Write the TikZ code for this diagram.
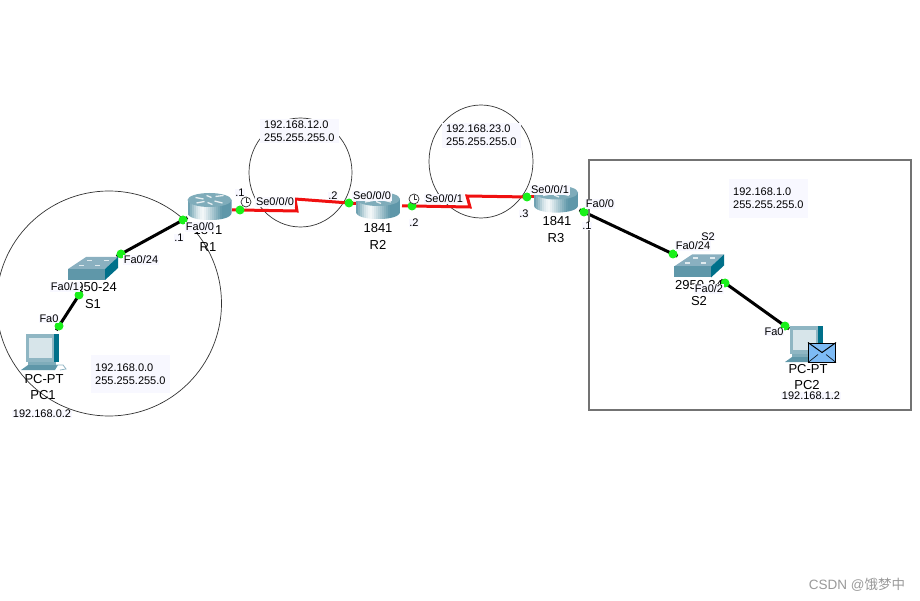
\documentclass[tikz,border=0pt]{standalone}
\usepackage{fontspec}
\setmainfont{Liberation Sans}
\newfontfamily\cjkfont{Noto Sans CJK SC}
\usetikzlibrary{positioning,backgrounds}

\definecolor{ghost}{HTML}{F8F8FF}
\definecolor{linkgreen}{HTML}{19F019}
\definecolor{seriallink}{HTML}{F01010}
\definecolor{teal}{HTML}{5F97A9}
\definecolor{tealdark}{HTML}{00708A}
\definecolor{teallight}{HTML}{8FB3C2}
\definecolor{mailblue}{HTML}{7DBBF5}

\tikzset{
    portdot/.style={circle, fill=linkgreen, inner sep=0pt, minimum size=9pt},
    fastlink/.style={line width=3pt, black, shorten <=-5pt, shorten >=-5pt},
    seriallinkline/.style={line width=3pt, seriallink},
    netring/.style={draw=black!80, line width=0.7pt},
    portlabel/.style={fill=ghost, font=\fontsize{11}{11}\selectfont, inner sep=0.6pt},
    devlabel/.style={font=\fontsize{13}{13}\selectfont, inner sep=0pt},
    netlabel/.style={fill=ghost, font=\fontsize{11}{13}\selectfont, align=left, anchor=north west,
        inner sep=0pt, inner xsep=4pt, inner ysep=1pt},
    pics/router/.style={code={
        \begin{scope}
        \clip (-22,-6.5) -- (-22,6.5) .. controls (-22,16) and (22,16) .. (22,6.5) -- (22,-6.5) -- cycle;
        % body gradient, light a third of the way along
        \foreach \m/\x in {10/-22,25/-20,40/-18,55/-16,70/-14,80/-12,88/-10,92/-8,85/-6,75/-4,65/-2,55/0,45/2,35/4,25/6,15/8,5/10,0/12,0/14,0/16,0/18,0/20} {
            \fill[white!\m!teal] (\x,-14) rectangle ++(2.3,28);
        }
        \end{scope}
        \fill[teal!80!white] (0,-6.5) ellipse[x radius=22, y radius=7];
        \foreach \xa/\ya/\xb/\yb in {-14/-9/-6/-7.5, 6/-10/14/-11, -13/-3.5/-5/-5, 5/-5.5/13/-3.5, -3/-11/2/-9, -2/-4/3/-2} {
            \draw[white!85!teal, line width=1.3pt] (\xa,\ya) -- (\xb,\yb);
        }
    }},
    pics/switchbox/.style={code={
        \fill[teallight!90!teal] (-25,1) -- (-7,-11) -- (25,-11) -- (12,1) -- cycle;
        \fill[teal] (-25,1) rectangle (12,12);
        \fill[tealdark] (12,1) -- (25,-11) -- (25,0) -- (12,12) -- cycle;
        \foreach \x/\y in {-14/-3,-6/-8,2/-3,11/-8} {
            \fill[white!80!teal] (\x,\y) rectangle ++(5,1.2);
        }
    }},
    pics/pcbox/.style={code={
        \fill[tealdark] (-17,-18) rectangle (16,10);
        \fill[teal!70!white] (-17,-18) rectangle (11,10);
        \fill[white!75!teal] (-14,-14) rectangle (9,6);
        \fill[teal!80!white] (-15,10) rectangle (13,14);
        \fill[teal] (-22,18) -- (-15,13) -- (15,13) -- (12,18) -- cycle;
        \draw[teallight, line width=0.8pt] (13,13) -- (20,13) -- (23,17) -- (17,18);
    }},
    pics/clockface/.style={code={
        \draw[black!80, fill=white, line width=0.7pt] (0,0) circle (5);
        \draw[black!80, line width=0.6pt] (0,-3.5) -- (0,0) -- (3,0);
    }},
}

\begin{document}
\begin{tikzpicture}[x=1pt, y=-1pt]
\useasboundingbox (0,0) rectangle (920,601);

% LAN 2 frame
\node[draw=black!55, line width=1.2pt, minimum width=322pt, minimum height=250pt, inner sep=0pt] (lanframe) at (750,285) {};

% Port dots
\foreach \n/\x/\y in {pcOneFa/59/326, sOneFaOne/79/295, sOneFaTwo/121/254, rOneFa/183/220,
        rOneSe/240/210, rTwoSeA/349/203, rTwoSeB/412/206, rThreeSe/527/197, rThreeFa/584/212,
        sTwoFaTwo/673/254, sTwoFaOne/725/283, pcTwoFa/785/326} {
    \node[portdot] (\n) at (\x,\y) {};
}

% Bends of the serial lines
\coordinate (bendA) at (297,211);
\coordinate (bendB) at (295,199);
\coordinate (bendC) at (470,207);
\coordinate (bendD) at (467,196);

% Network rings and links, under everything else
\begin{scope}[on background layer]
\node[netring, circle, minimum size=225pt, inner sep=0pt] (ringA) at (109,303.5) {};
\draw[netring] (300.5,172.5) ellipse[x radius=51.5, y radius=54.5];
\draw[netring] (481,161.5) ellipse[x radius=52, y radius=56.5];

\draw[fastlink] (pcOneFa.center) -- (sOneFaOne.center);
\draw[fastlink] (sOneFaTwo.center) -- (rOneFa.center);
\draw[fastlink] (rThreeFa.center) -- (sTwoFaTwo.center);
\draw[fastlink] (sTwoFaOne.center) -- (pcTwoFa.center);

\draw[seriallinkline, line join=miter, shorten <=-8pt] (rOneSe.center) -- (bendA) -- (bendB) -- (rTwoSeA.center);
\draw[seriallinkline, shorten >=-8pt] (rTwoSeA.center) -- ++(8,0.5);
\draw[seriallinkline, line join=miter, shorten <=-10pt] (rTwoSeB.center) -- (bendC) -- (bendD) -- (rThreeSe.center);
\draw[seriallinkline, shorten >=-8pt] (rThreeSe.center) -- ++(8,0);
\end{scope}

% Devices
\pic at (209.5,206.5) {router};
\pic at (378,205.5) {router};
\pic at (556,199) {router};
\pic at (93,268) {switchbox};
\pic at (699,265.5) {switchbox};
\pic at (43,352) {pcbox};
\pic at (807,344) {pcbox};

% Mail on PC2
\node[draw=black, line width=1pt, fill=mailblue, minimum width=27pt, minimum height=19pt, inner sep=0pt] (mail) at (822,352.5) {};
\draw[black, line width=1pt] (mail.north west) -- (mail.center) -- (mail.north east);
\draw[black, line width=0.6pt] (mail.south west) -- ++(10,-8);
\draw[black, line width=0.6pt] (mail.south east) -- ++(-10,-8);

% Clocks
\pic at (246,202) {clockface};
\pic at (414,199) {clockface};

% Device names
\foreach \n/\x/\y/\l in {modelA/208/230/1841, nameA/208/247/R1, modelB/378/228/1841, nameB/378/245/R2,
        modelC/557/221/1841, nameC/556/238/R3, modelD/93/287/2950-24, nameD/93/304/S1,
        modelE/699/285/2950-24, nameE/699/301/S2, modelF/44/379/PC-PT, nameF/43/395/PC1,
        modelG/808/369/PC-PT, nameG/807/385/PC2} {
    \node[devlabel] (\n) at (\x,\y) {\l};
}

% Port and address labels
\foreach \n/\x/\y/\l in {lblA/200/227/Fa0\slash 0, lblB/179/238/.1, lblC/141/260/Fa0\slash 24, lblD/65/287/Fa0\slash 1,
        lblE/49/319/Fa0, lblF/240/193/.1, lblG/275/202/Se0\slash 0\slash 0, lblH/333/196/.2,
        lblI/372/196/Se0\slash 0\slash 0, lblJ/414/223/.2, lblK/444/199/Se0\slash 0\slash 1, lblL/524/214/.3,
        lblM/550/190/Se0\slash 0\slash 1, lblN/600/204/Fa0\slash 0, lblO/587/226/.1, lblP/708/237/S2,
        lblQ/693/246/Fa0\slash 24, lblR/709/289/Fa0\slash 2, lblS/774/332/Fa0,
        lblT/42/414/192.168.0.2, lblU/811/396/192.168.1.2} {
    \node[portlabel] (\n) at (\x,\y) {\l};
}

% Subnet notes
\node[netlabel, minimum width=77pt, minimum height=38pt] (netA) at (91,355) {192.168.0.0\\255.255.255.0};
\node[netlabel, minimum width=77pt, minimum height=24pt] (netB) at (260,119) {192.168.12.0\\255.255.255.0};
\node[netlabel, minimum width=77pt, minimum height=25pt] (netC) at (442,123) {192.168.23.0\\255.255.255.0};
\node[netlabel, minimum width=77pt, minimum height=39pt] (netD) at (729,179) {192.168.1.0\\255.255.255.0};

% Watermark
\node[text=black!40, font=\fontsize{13.5}{14}\selectfont, inner sep=0pt] (mark) at (857,585) {CSDN @{\cjkfont 饿梦中}};
\end{tikzpicture}
\end{document}
